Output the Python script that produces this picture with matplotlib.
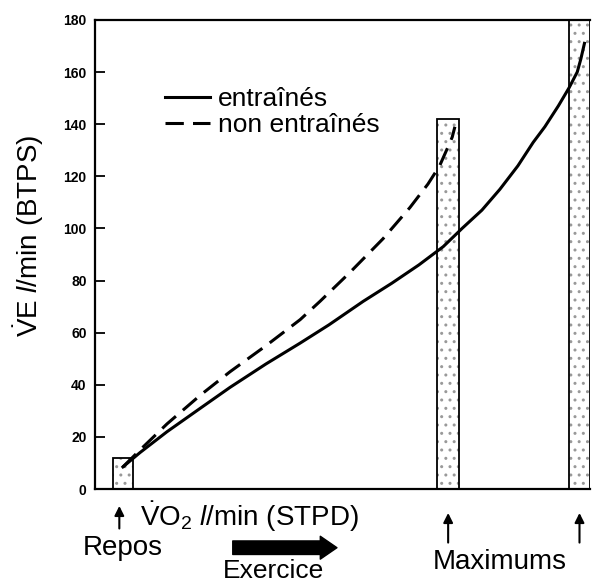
import matplotlib.pyplot as plt

plt.rcParams['font.family'] = ['Liberation Sans', 'DejaVu Sans']
plt.rcParams['mathtext.fontset'] = 'custom'
plt.rcParams['mathtext.rm'] = 'Liberation Sans'
plt.rcParams['mathtext.it'] = 'Liberation Sans:italic'

# VO2 (arbitrary l/min scale) vs VE l/min
trained_x = [0.31, 0.5, 0.8, 1.17, 1.5, 1.9, 2.28, 2.6, 2.98, 3.3, 3.6, 3.87, 4.08,
             4.3, 4.5, 4.7, 4.87, 5.0, 5.15, 5.27, 5.36, 5.40, 5.44]
trained_y = [8.5, 14, 22, 31, 39, 48, 56, 63, 72, 79, 86, 93, 100,
             107, 115, 124, 133, 139, 147, 154, 160, 165, 171]
untrained_x = [0.31, 0.5, 0.8, 1.17, 1.5, 1.9, 2.28, 2.5, 2.83, 3.2, 3.5, 3.7,
               3.83, 3.92, 3.97, 4.0]
untrained_y = [8.5, 15, 25, 36, 45, 55, 65, 72, 83, 96, 108, 117,
               124, 131, 135, 139]

# boxes: rest, max untrained, max trained
box_left = [0.2, 3.8, 5.27]
box_width = [0.22, 0.25, 0.23]
box_height = [12, 142, 180]

yticks = [0, 20, 40, 60, 80, 100, 120, 140, 160, 180]

fig = plt.figure(figsize=(5.94, 5.85), dpi=100)
ax = fig.add_axes([0.16, 0.164, 0.833, 0.802])

ax.bar(box_left, box_height, width=box_width, align='edge', color='white',
       edgecolor='0.6', hatch='..', linewidth=0)
ax.bar(box_left, box_height, width=box_width, align='edge', fill=False,
       edgecolor='black', linewidth=1.3)

ax.plot(trained_x, trained_y, color='black', lw=2.2, label='entraînés')
ax.plot(untrained_x, untrained_y, color='black', lw=2.2, dashes=(6, 3),
        label='non entraînés')

ax.set_xlim(0, 5.5)
ax.set_ylim(0, 180)
ax.set_xticks([])
ax.set_yticks(yticks)
ax.tick_params(axis='y', direction='in', length=7, width=1.3, pad=6)
for lab in ax.get_yticklabels():
    lab.set_fontweight('bold')
    lab.set_fontsize(10)
for s in ['left', 'bottom', 'top']:
    ax.spines[s].set_linewidth(1.6)
ax.spines['right'].set_visible(False)

ax.set_ylabel(r'$\dot{\mathrm{V}}\mathrm{E}$ $\mathit{l}$/min (BTPS)', fontsize=20)
ax.yaxis.set_label_coords(-0.1, 0.54)

ax.legend(loc='upper left', bbox_to_anchor=(0.12, 0.88), frameon=False,
          fontsize=19, handlelength=1.7, handletextpad=0.3, labelspacing=0.1,
          borderaxespad=0)

trans = ax.get_xaxis_transform()
arrow = dict(arrowstyle='-|>', color='black', lw=1.5, mutation_scale=14)
ax.annotate('', xy=(0.27, -0.03), xytext=(0.27, -0.09), xycoords=trans, arrowprops=arrow)
ax.text(0.5, -0.06, r'$\dot{\mathrm{V}}\mathrm{O}_2$ $\mathit{l}$/min (STPD)',
        transform=trans, fontsize=20, ha='left', va='center')
ax.text(0.31, -0.125, 'Repos', transform=trans, fontsize=20, ha='center', va='center')

for bx, bw in zip(box_left[1:], box_width[1:]):
    cx = bx + bw / 2
    ax.annotate('', xy=(cx, -0.045), xytext=(cx, -0.12), xycoords=trans, arrowprops=arrow)
ax.text(4.5, -0.155, 'Maximums', transform=trans, fontsize=20, ha='center', va='center')

ax.annotate('', xy=(2.72, -0.125), xytext=(1.5, -0.125), xycoords=trans,
            arrowprops=dict(arrowstyle='simple,head_length=0.8,head_width=1.1,tail_width=0.65',
                            color='black', mutation_scale=15))
ax.text(1.98, -0.174, 'Exercice', transform=trans, fontsize=19, ha='center', va='center')

fig.savefig('out.png', dpi=100)
